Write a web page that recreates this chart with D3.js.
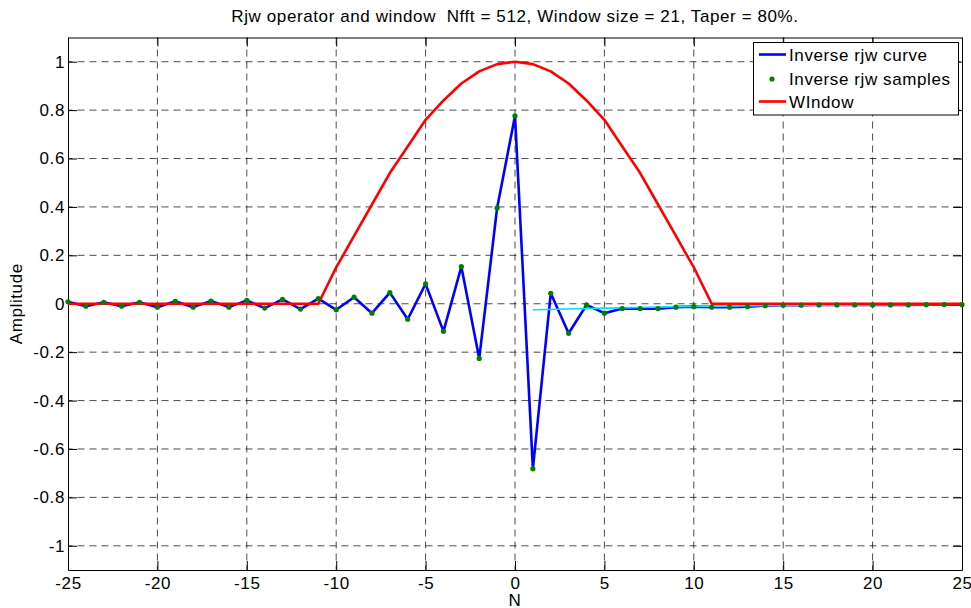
<!DOCTYPE html>
<html>
<head>
<meta charset="utf-8">
<script src="https://cdn.jsdelivr.net/npm/d3@7"></script>
<style>
  html, body { margin: 0; padding: 0; background: #fff; }
  svg text { font-family: "Liberation Sans", Arial, sans-serif; font-size: 17px; letter-spacing: 0.6px; fill: #000; white-space: pre; }
</style>
</head>
<body>
<svg id="chart" width="971" height="608"></svg>
<script>
// ---- data ----
const titleText = "Rjw operator and window  Nfft = 512, Window size = 21, Taper = 80%.";
const xLabel = "N";
const yLabel = "Amplitude";
const legendLabels = ["Inverse rjw curve", "Inverse rjw samples", "WIndow"];

const xTicks = [-25, -20, -15, -10, -5, 0, 5, 10, 15, 20, 25];
const yTicks = [-1, -0.8, -0.6, -0.4, -0.2, 0, 0.2, 0.4, 0.6, 0.8, 1];
const yTickLabels = ["-1", "-0.8", "-0.6", "-0.4", "-0.2", "0", "0.2", "0.4", "0.6", "0.8", "1"];

const sampleN = [-25,-24,-23,-22,-21,-20,-19,-18,-17,-16,-15,-14,-13,-12,-11,-10,-9,-8,-7,-6,-5,-4,-3,-2,-1,
                 0,1,2,3,4,5,6,7,8,9,10,11,12,13,14,15,16,17,18,19,20,21,22,23,24,25];
const sampleValues = [0.008,-0.010,0.006,-0.010,0.006,-0.014,0.010,-0.014,0.011,-0.014,0.014,-0.018,0.018,-0.022,0.021,
                      -0.025,0.027,-0.039,0.046,-0.064,0.082,-0.114,0.153,-0.226,0.396,
                      0.776,-0.682,0.043,-0.122,-0.005,-0.039,-0.020,-0.020,-0.020,-0.014,-0.012,
                      -0.014,-0.014,-0.012,-0.008,-0.006,-0.006,-0.005,-0.005,-0.005,-0.005,-0.005,-0.005,-0.004,-0.003,-0.004];

const windowN = [-25,-11,-10,-9,-8,-7,-6,-5,-4,-3,-2,-1,0,1,2,3,4,5,6,7,8,9,10,11,25];
const windowValues = [0,0,0.15,0.28,0.41,0.54,0.65,0.76,0.84,0.91,0.96,0.99,1,0.99,0.96,0.91,0.84,0.76,0.65,0.54,0.41,0.28,0.15,0,0];

const trendN = [1, 5, 10, 15, 20, 25];
const trendValues = [-0.025, -0.018, -0.011, -0.007, -0.005, -0.003];

// ---- layout ----
const svg = d3.select("#chart");
const L = 68, R = 962, T = 37.5, B = 570;
const x = d3.scaleLinear().domain([-25, 25]).range([L, R]);
const y = d3.scaleLinear().domain([-1.1, 1.1]).range([B, T]);

svg.append("rect").attr("x", L).attr("y", T).attr("width", R - L).attr("height", B - T).attr("fill", "#fff");

// grid
const grid = svg.append("g").attr("stroke", "#000").attr("stroke-opacity", 0.7)
  .attr("stroke-width", 1).attr("stroke-dasharray", "7,5").attr("fill", "none");
grid.selectAll("line.v").data(xTicks.filter(d => d > -25 && d < 25)).enter().append("line")
  .attr("x1", d => x(d)).attr("x2", d => x(d)).attr("y1", B).attr("y2", T)
  .attr("stroke-dashoffset", 2.5);
grid.selectAll("line.h").data(yTicks).enter().append("line")
  .attr("x1", L).attr("x2", R).attr("y1", d => y(d)).attr("y2", d => y(d))
  .attr("stroke-dashoffset", 2.5);

// axes
function styleAxis(g) {
  g.selectAll(".domain").attr("stroke", "#000").attr("stroke-width", 1);
  g.selectAll(".tick line").attr("stroke", "#000").attr("stroke-width", 1);
  g.selectAll("text").attr("fill", "#000");
  g.attr("font-family", null).attr("font-size", null);
}
svg.append("g").attr("transform", `translate(0,${B})`)
  .call(d3.axisBottom(x).tickValues(xTicks).tickFormat(d => String(d)).tickSizeInner(-9).tickSizeOuter(0).tickPadding(7))
  .call(styleAxis);
svg.append("g").attr("transform", `translate(${L},0)`)
  .call(d3.axisLeft(y).tickValues(yTicks).tickFormat((d, i) => yTickLabels[i]).tickSizeInner(-9).tickSizeOuter(0).tickPadding(3))
  .call(styleAxis);
svg.append("g").attr("transform", `translate(0,${T})`)
  .call(d3.axisTop(x).tickValues(xTicks).tickFormat("").tickSizeInner(-9).tickSizeOuter(0))
  .call(styleAxis);
svg.append("g").attr("transform", `translate(${R},0)`)
  .call(d3.axisRight(y).tickValues(yTicks).tickFormat("").tickSizeInner(-9).tickSizeOuter(0))
  .call(styleAxis);

// series
const plot = svg.append("g");
const lineGen = d3.line().x(d => x(d[0])).y(d => y(d[1]));
const samples = sampleN.map((n, i) => [n, sampleValues[i]]);
const win = windowN.map((n, i) => [n, windowValues[i]]);
const trend = trendN.map((n, i) => [n, trendValues[i]]);

plot.append("path").datum(samples).attr("d", lineGen)
  .attr("fill", "none").attr("stroke", "#0000ff").attr("stroke-width", 2.6).attr("stroke-linejoin", "round");
plot.append("path").datum(trend).attr("d", d3.line().curve(d3.curveMonotoneX).x(d => x(d[0])).y(d => y(d[1])))
  .attr("fill", "none").attr("stroke", "#00e5ff").attr("stroke-width", 1.6);
plot.append("path").datum(win).attr("d", lineGen)
  .attr("fill", "none").attr("stroke", "#ff0000").attr("stroke-width", 2.6).attr("stroke-linejoin", "round");
plot.selectAll("circle.s").data(samples).enter().append("circle")
  .attr("cx", d => x(d[0])).attr("cy", d => y(d[1])).attr("r", 2.6).attr("fill", "#008000");

// title & labels
svg.append("text").attr("x", (L + R) / 2).attr("y", 21.5).attr("text-anchor", "middle").text(titleText);
svg.append("text").attr("x", (L + R) / 2).attr("y", 606).attr("text-anchor", "middle").text(xLabel);
svg.append("text").attr("transform", `translate(22,${(T + B) / 2}) rotate(-90)`).attr("text-anchor", "middle").text(yLabel);

// legend
const lg = svg.append("g");
lg.append("rect").attr("x", 753.5).attr("y", 42.5).attr("width", 205).attr("height", 72.5)
  .attr("fill", "#fff").attr("stroke", "#000").attr("stroke-width", 1);
const rowsY = [54.5, 79, 101.5];
lg.append("line").attr("x1", 759).attr("x2", 786).attr("y1", rowsY[0]).attr("y2", rowsY[0])
  .attr("stroke", "#0000ff").attr("stroke-width", 2.6);
lg.append("circle").attr("cx", 772).attr("cy", rowsY[1]).attr("r", 2.6).attr("fill", "#008000");
lg.append("line").attr("x1", 759).attr("x2", 786).attr("y1", rowsY[2]).attr("y2", rowsY[2])
  .attr("stroke", "#ff0000").attr("stroke-width", 2.6);
lg.selectAll("text.l").data(legendLabels).enter().append("text")
  .attr("x", 789).attr("y", (d, i) => rowsY[i] + 6).text(d => d);
</script>
</body>
</html>
